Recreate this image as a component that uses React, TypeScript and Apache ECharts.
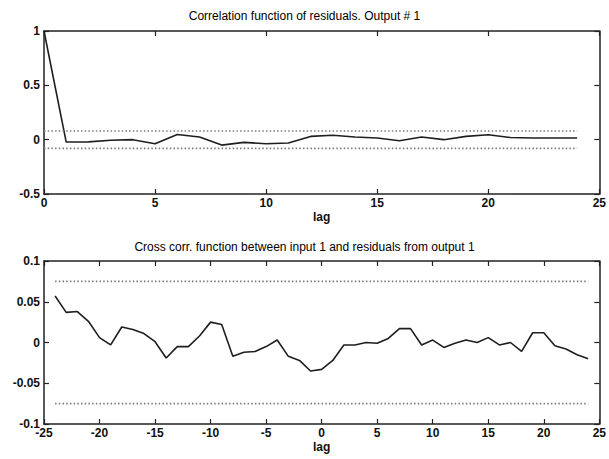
import React, { useEffect, useRef } from "react";
import * as echarts from "echarts";

const autoLags = [0,1,2,3,4,5,6,7,8,9,10,11,12,13,14,15,16,17,18,19,20,21,22,23,24];
const autoCorr = [1.0,-0.022,-0.02,-0.005,0.0,-0.037,0.048,0.025,-0.05,-0.025,-0.037,-0.03,0.03,0.04,0.025,0.015,-0.01,0.025,0.0,0.03,0.045,0.02,0.015,0.015,0.015];
const autoConf = [0.08, -0.08];

const crossLags = [-24,-23,-22,-21,-20,-19,-18,-17,-16,-15,-14,-13,-12,-11,-10,-9,-8,-7,-6,-5,-4,-3,-2,-1,0,1,2,3,4,5,6,7,8,9,10,11,12,13,14,15,16,17,18,19,20,21,22,23,24];
const crossCorr = [0.057,0.037,0.038,0.026,0.006,-0.003,0.019,0.016,0.011,0.001,-0.019,-0.005,-0.005,0.008,0.025,0.022,-0.017,-0.012,-0.011,-0.005,0.003,-0.017,-0.022,-0.035,-0.033,-0.022,-0.003,-0.003,0.0,-0.001,0.005,0.017,0.017,-0.003,0.003,-0.006,-0.001,0.003,0.0,0.006,-0.003,0.0,-0.011,0.012,0.012,-0.004,-0.008,-0.015,-0.02];
const crossConf = [0.075, -0.075];

const titles = [
  "Correlation function of residuals. Output # 1",
  "Cross corr. function between input 1 and residuals from output 1",
];
const xLabel = "lag";

export default function App() {
  const ref = useRef<HTMLDivElement>(null);
  useEffect(() => {
    if (!ref.current) return;
    const chart = echarts.init(ref.current, null, { renderer: "svg" });
    const font = "'Liberation Sans', Arial, Helvetica, sans-serif";
    const txt = "#111";
    const axisLine = { show: true, onZero: false, lineStyle: { color: "#222", width: 1.5 } };
    const tick = { show: true, inside: true, length: 5, lineStyle: { color: "#222", width: 1.2 } };
    const label = { color: txt, fontSize: 12, fontFamily: font, fontWeight: "bold" as const };

    const mkX = (gi: number, min: number, max: number, pos: "bottom" | "top") => ({
      type: "value" as const,
      gridIndex: gi,
      min,
      max,
      interval: 5,
      position: pos,
      axisLine,
      axisTick: tick,
      splitLine: { show: false },
      axisLabel: pos === "bottom" ? { ...label, margin: 3 } : { show: false },
      name: pos === "bottom" ? xLabel : "",
      nameLocation: "middle" as const,
      nameGap: 17,
      nameTextStyle: { color: txt, fontSize: 12, fontFamily: font, fontWeight: "bold" as const },
    });
    const mkY = (gi: number, min: number, max: number, interval: number, pos: "left" | "right") => ({
      type: "value" as const,
      gridIndex: gi,
      min,
      max,
      interval,
      position: pos,
      axisLine,
      axisTick: tick,
      splitLine: { show: false },
      axisLabel: pos === "left" ? { ...label, margin: 4 } : { show: false },
    });

    const dotted = { color: "#7a7a7a", width: 1.6, type: [1.5, 2.2] as number[] };
    const solid = { color: "#1e1e1e", width: 1.6 };

    chart.setOption({
      animation: false,
      backgroundColor: "#fff",
      title: [
        { text: titles[0], left: "center", top: 5, textStyle: { color: "#000", fontSize: 12, fontFamily: font, fontWeight: "normal" } },
        { text: titles[1], left: "center", top: 236, textStyle: { color: "#000", fontSize: 12, fontFamily: font, fontWeight: "normal" } },
      ],
      grid: [
        { left: 44, right: 8, top: 31, height: 163 },
        { left: 44, right: 8, top: 261, height: 163 },
      ],
      xAxis: [
        mkX(0, 0, 25, "bottom"),
        mkX(0, 0, 25, "top"),
        mkX(1, -25, 25, "bottom"),
        mkX(1, -25, 25, "top"),
      ],
      yAxis: [
        mkY(0, -0.5, 1, 0.5, "left"),
        mkY(0, -0.5, 1, 0.5, "right"),
        mkY(1, -0.1, 0.1, 0.05, "left"),
        mkY(1, -0.1, 0.1, 0.05, "right"),
      ],
      series: [
        {
          type: "line", xAxisIndex: 0, yAxisIndex: 0, showSymbol: false, lineStyle: solid,
          data: autoLags.map((l, i) => [l, autoCorr[i]]),
        },
        ...autoConf.map((c) => ({
          type: "line", xAxisIndex: 0, yAxisIndex: 0, showSymbol: false, lineStyle: dotted,
          data: [[autoLags[0], c], [autoLags[autoLags.length - 1], c]],
        })),
        {
          type: "line", xAxisIndex: 2, yAxisIndex: 2, showSymbol: false, lineStyle: solid,
          data: crossLags.map((l, i) => [l, crossCorr[i]]),
        },
        ...crossConf.map((c) => ({
          type: "line", xAxisIndex: 2, yAxisIndex: 2, showSymbol: false, lineStyle: dotted,
          data: [[crossLags[0], c], [crossLags[crossLags.length - 1], c]],
        })),
      ],
    });
    return () => chart.dispose();
  }, []);
  return <div ref={ref} style={{ width: 609, height: 459, position: "absolute", left: 0, top: 0 }} />;
}
